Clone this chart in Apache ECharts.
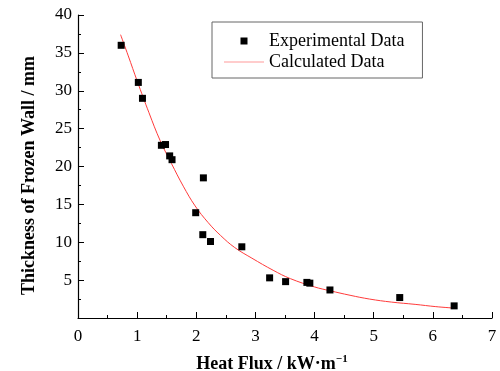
<!DOCTYPE html>
<html>
<head>
<meta charset="utf-8">
<script src="https://cdn.jsdelivr.net/npm/echarts@6/dist/echarts.min.js"></script>
<style>
  html, body { margin: 0; padding: 0; background: #fff; }
  #chart { width: 500px; height: 371px; }
</style>
</head>
<body>
<div id="chart"></div>
<script>
// Measured frozen-wall thickness against heat flux
const expFlux = [0.73, 1.02, 1.09, 1.41, 1.48, 1.55, 1.59, 1.99, 2.11, 2.12, 2.24, 2.77, 3.24, 3.51, 3.87, 3.92, 4.26, 5.44, 6.36];
const expThickness = [36.0, 31.1, 29.0, 22.8, 22.9, 21.4, 20.9, 13.9, 11.0, 18.5, 10.1, 9.4, 5.3, 4.8, 4.7, 4.6, 3.7, 2.7, 1.6];

// Model curve
const calcFlux = [0.72, 0.85, 1.0, 1.2, 1.39, 1.58, 1.78, 1.98, 2.2, 2.41, 2.65, 2.94, 3.3, 3.59, 4.0, 4.26, 4.6, 4.93, 5.3, 5.7, 6.05, 6.37];
const calcThickness = [37.4, 34.6, 31.3, 27.1, 23.4, 20.4, 17.4, 14.8, 12.6, 10.9, 9.3, 7.9, 6.3, 5.2, 4.1, 3.6, 3.0, 2.5, 2.1, 1.8, 1.5, 1.3];

const xTicks = { min: 0, max: 7, interval: 1 };
const yTicks = { min: 0, max: 40, interval: 5 };

const serif = '"Liberation Serif", "Times New Roman", serif';

const expPoints = expFlux.map((x, i) => [x, expThickness[i]]);
const calcPoints = calcFlux.map((x, i) => [x, calcThickness[i]]);

// Legend icons: a 40x8 box holding a small square / a thin line
const squareIcon = 'path://M0,0M40,8M16.5,0.5L23.5,0.5L23.5,7.5L16.5,7.5Z';
const lineIcon = 'path://M0,0M40,8M0,3.5L40,3.5L40,4.5L0,4.5Z';

const chart = echarts.init(document.getElementById('chart'), null, { renderer: 'canvas' });

chart.setOption({
  animation: false,
  backgroundColor: '#ffffff',
  grid: { left: 78, right: 8, top: 15, bottom: 53, containLabel: false, outerBoundsMode: 'none' },
  legend: {
    orient: 'vertical',
    left: 212,
    top: 22,
    padding: [10, 18, 7, 12],
    itemWidth: 40,
    itemHeight: 8,
    itemGap: 3,
    borderColor: '#666666',
    borderWidth: 1,
    textStyle: { fontFamily: serif, fontSize: 18, color: '#000' },
    data: [
      { name: 'Experimental Data', icon: squareIcon, itemStyle: { color: '#000' } },
      { name: 'Calculated Data', icon: lineIcon, itemStyle: { color: '#ff9a9a' } }
    ]
  },
  xAxis: {
    type: 'value',
    min: xTicks.min,
    max: xTicks.max,
    interval: xTicks.interval,
    name: 'Heat Flux / {b|kW·m}{s|−1}',
    nameLocation: 'middle',
    nameGap: 36,
    nameTextStyle: {
      fontFamily: serif, fontSize: 18, fontWeight: 'bold', color: '#000',
      padding: [0, 26, 0, 0],
      rich: {
        b: { fontFamily: serif, fontSize: 18, fontWeight: 'bold', color: '#000' },
        s: { fontFamily: serif, fontSize: 11, fontWeight: 'bold', color: '#000', verticalAlign: 'top', padding: [0, 0, 9, 0] }
      }
    },
    axisLine: { show: true, onZero: false, lineStyle: { color: '#000', width: 1.2 } },
    axisTick: { show: true, inside: true, length: 6, lineStyle: { color: '#000', width: 1 } },
    minorTick: { show: true, splitNumber: 2, length: 3, lineStyle: { color: '#000', width: 1 } },
    splitLine: { show: false },
    axisLabel: { fontFamily: serif, fontSize: 17, color: '#000', margin: 10 }
  },
  yAxis: {
    type: 'value',
    min: yTicks.min,
    max: yTicks.max,
    interval: yTicks.interval,
    name: 'Thickness of Frozen Wall / mm',
    nameLocation: 'middle',
    nameRotate: 90,
    nameGap: 40,
    nameTextStyle: {
      fontFamily: serif, fontSize: 18, fontWeight: 'bold', color: '#000',
      padding: [0, 18, 0, 0]
    },
    axisLine: { show: true, onZero: false, lineStyle: { color: '#000', width: 1.2 } },
    axisTick: { show: true, inside: true, length: 6, lineStyle: { color: '#000', width: 1 } },
    minorTick: { show: true, splitNumber: 2, length: 3, lineStyle: { color: '#000', width: 1 } },
    splitLine: { show: false },
    axisLabel: { fontFamily: serif, fontSize: 17, color: '#000', margin: 6, showMinLabel: false }
  },
  series: [
    {
      name: 'Calculated Data',
      type: 'line',
      data: calcPoints,
      smooth: 0.4,
      symbol: 'none',
      z: 2,
      lineStyle: { color: '#ff3b3b', width: 1 },
      itemStyle: { color: '#ff3b3b' }
    },
    {
      name: 'Experimental Data',
      type: 'scatter',
      data: expPoints,
      symbol: 'rect',
      symbolSize: 7,
      z: 3,
      itemStyle: { color: '#000', opacity: 1 }
    }
  ]
});
</script>
</body>
</html>
